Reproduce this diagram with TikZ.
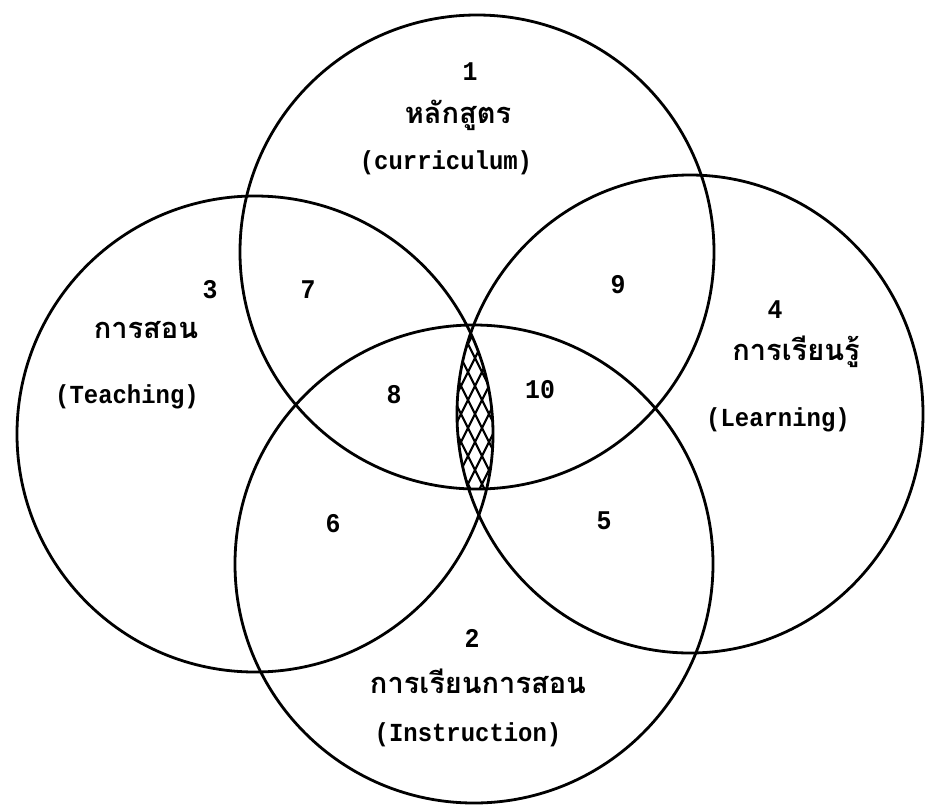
\documentclass[tikz,border=0pt]{standalone}
\usepackage{fontspec}
\setmonofont[FakeStretch=0.92]{Liberation Mono}
\newfontfamily\thaifont[Script=Thai]{Loma}
\begin{document}
\begin{tikzpicture}[x=1pt,y=-1pt,
  ring/.style={line width=2.8pt, black},
  hatchline/.style={line width=2.2pt, black},
  numlbl/.style={font=\ttfamily\bfseries\fontsize{27}{30}\selectfont, inner sep=0pt},
  englbl/.style={font=\ttfamily\bfseries\fontsize{26}{30}\selectfont, inner sep=0pt},
  thailbl/.style={font=\thaifont\bfseries\fontsize{29}{34}\selectfont, inner sep=0pt}]
\useasboundingbox (0,0) rectangle (930,807);
\fill[white] (0,0) rectangle (930,807);
% circle centres
\coordinate (T) at (477,252);
\coordinate (L) at (255,434);
\coordinate (R) at (690,414);
\coordinate (B) at (474,564);
% hatched common region
\begin{scope}
  \clip (L) circle[radius=238];
  \clip (R) ellipse[x radius=233, y radius=239];
  \clip (T) circle[radius=237];
  \clip (B) circle[radius=239];
  \foreach \i in {-224,-210,...,224} {
    \draw[hatchline] (475+\i-90,290) -- ++(120,240);
    \draw[hatchline] (475+\i+90,290) -- ++(-120,240);
  }
\end{scope}
% circles
\draw[ring] (T) circle[radius=237];
\draw[ring] (L) circle[radius=238];
\draw[ring] (R) ellipse[x radius=233, y radius=239];
\draw[ring] (B) circle[radius=239];
% labels: curriculum
\node[numlbl] (n1) at (470,72) {1};
\node[thailbl] (t1) at (458,115) {หลักสูตร};
\node[englbl] (e1) at (446,163) {(curriculum)};
% teaching
\node[numlbl] (n3) at (210,290) {3};
\node[thailbl] (t3) at (146,330) {การสอน};
\node[englbl] (e3) at (127,397) {(Teaching)};
% learning
\node[numlbl] (n4) at (775,310) {4};
\node[thailbl] (t4) at (796,352) {การเรียนรู้};
\node[englbl] (e4) at (778,420) {(Learning)};
% instruction
\node[numlbl] (n2) at (472,638) {2};
\node[thailbl] (t2) at (478,681) {การเรียนการสอน};
\node[englbl] (e2) at (468,735) {(Instruction)};
% region numbers
\node[numlbl] (n7) at (308,290) {7};
\node[numlbl] (n9) at (618,285) {9};
\node[numlbl] (n8) at (394,395) {8};
\node[numlbl] (n10) at (540,390) {10};
\node[numlbl] (n6) at (333,524) {6};
\node[numlbl] (n5) at (604,521) {5};
\end{tikzpicture}
\end{document}
